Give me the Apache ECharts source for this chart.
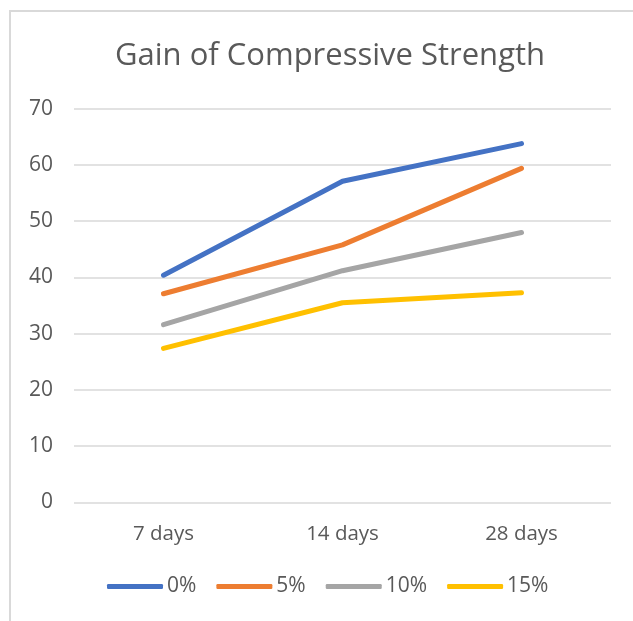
<!DOCTYPE html>
<html>
<head>
<meta charset="utf-8">
<script src="https://cdn.jsdelivr.net/npm/echarts@6/dist/echarts.min.js"></script>
<style>
  html, body { margin: 0; padding: 0; background: #ffffff; }
  #chart { width: 633px; height: 621px; }
</style>
</head>
<body>
<div id="chart"></div>
<script>
// Curing ages on the x axis
const categories = ['7 days', '14 days', '28 days'];

// Compressive strength per replacement level
const seriesNames = ['0%', '5%', '10%', '15%'];
const strength0 = [40.4, 57.1, 63.8];
const strength5 = [37.1, 45.8, 59.4];
const strength10 = [31.6, 41.2, 48.0];
const strength15 = [27.4, 35.5, 37.3];

const seriesValues = [strength0, strength5, strength10, strength15];
const seriesColors = ['#4472C4', '#ED7D31', '#A5A5A5', '#FFC000'];

const FONT = '"Open Sans", sans-serif';
const TEXT = '#595959';

const chart = echarts.init(document.getElementById('chart'), null, { renderer: 'canvas' });

chart.setOption({
  backgroundColor: '#ffffff',
  animation: false,
  title: {
    text: 'Gain of Compressive Strength',
    left: 325,
    top: 36,
    textAlign: 'center',
    textStyle: { fontFamily: FONT, fontSize: 31, fontWeight: 'normal', color: TEXT }
  },
  graphic: [{
    type: 'rect',
    shape: { x: 10, y: 11, width: 660, height: 660 },
    style: { fill: 'none', stroke: '#d9d9d9', lineWidth: 2 },
    silent: true,
    z: -1
  }],
  legend: {
    left: 107,
    top: 576,
    padding: 0,
    itemWidth: 56,
    itemHeight: 5,
    itemGap: 20,
    icon: 'roundRect',
    textStyle: { fontFamily: FONT, fontSize: 21, color: TEXT, padding: [0, 0, 0, -1] },
    data: seriesNames
  },
  grid: { left: 74, right: 22, top: 108.7, bottom: 118.5, containLabel: false },
  xAxis: {
    type: 'category',
    data: categories,
    boundaryGap: true,
    axisLine: { show: false },
    axisTick: { show: false },
    axisLabel: { fontFamily: FONT, fontSize: 20.5, color: TEXT, margin: 21 }
  },
  yAxis: {
    type: 'value',
    min: 0,
    max: 70,
    interval: 10,
    axisLine: { show: false },
    axisTick: { show: false },
    axisLabel: { fontFamily: FONT, fontSize: 21, color: TEXT, margin: 21 },
    splitLine: { lineStyle: { color: '#d9d9d9', width: 1.6 } }
  },
  series: seriesNames.map((name, i) => ({
    name: name,
    type: 'line',
    data: seriesValues[i],
    symbol: 'none',
    color: seriesColors[i],
    lineStyle: { width: 5, color: seriesColors[i], cap: 'round', join: 'round' }
  }))
});
</script>
</body>
</html>
